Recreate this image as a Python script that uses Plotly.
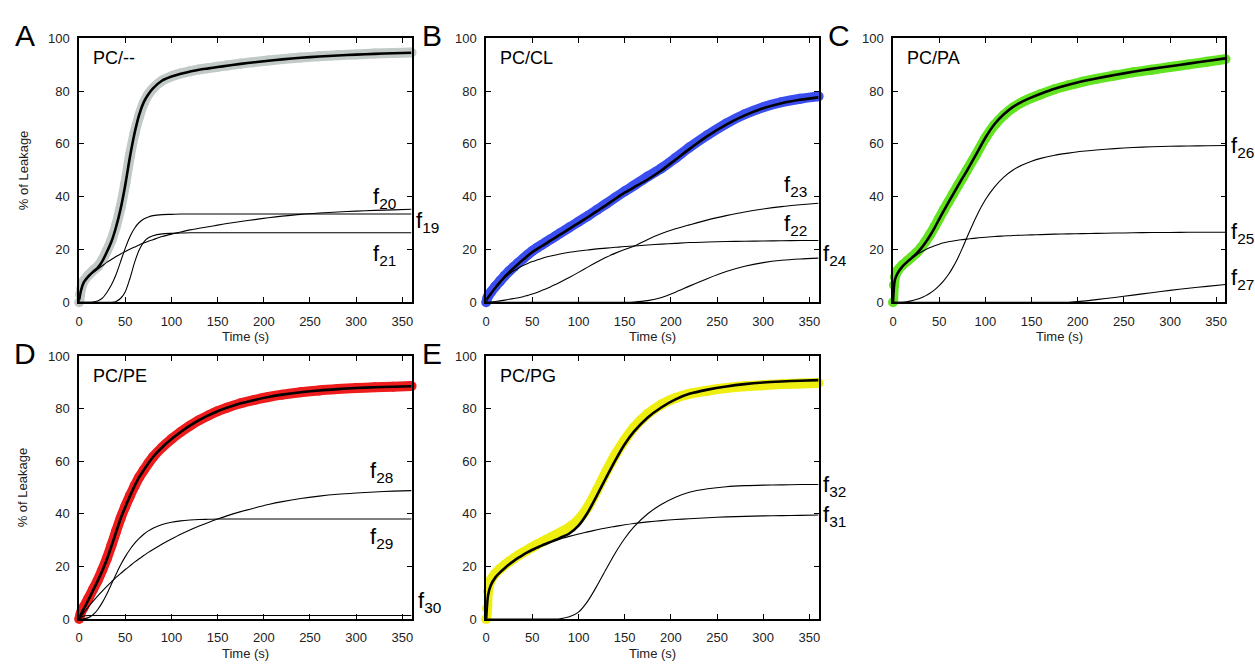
import plotly.graph_objects as go

W, H = 1255, 668

# ---------------- data ----------------
T = [0, 2, 5, 10, 15, 20, 25, 30, 35, 40, 45, 50, 55, 60, 65, 70, 75, 80, 90, 100,
     110, 120, 130, 140, 150, 160, 175, 190, 205, 220, 240, 260, 280, 300, 320, 340, 360]
TD = [0, 1, 2, 5, 10, 15, 20, 25, 30, 35, 40, 45, 50, 55, 60, 65, 70, 75, 80, 90, 100,
      110, 120, 130, 140, 150, 160, 175, 190, 205, 220, 240, 260, 280, 300, 320, 340, 360]

# Panel A  PC/--
A_data = [0, 3, 5, 8, 10.2, 12, 13.5, 16, 19.5, 23.5, 29, 36, 45, 55.5, 64, 70.5, 75.5, 78.8, 81,
          84, 85.6, 86.7, 87.5, 88.2, 88.7, 89.2, 89.7, 90.4, 91, 91.6, 92.1, 92.7, 93.2, 93.6,
          93.9, 94.2, 94.4, 94.6]
A_fit = [1, 4.5, 7.5, 9.8, 11.5, 13, 15.5, 19, 23, 28.5, 35.5, 44.5, 55, 64, 71, 75.8, 78.8, 81,
         84, 85.5, 86.6, 87.4, 88.1, 88.6, 89.1, 89.6, 90.3, 90.9, 91.5, 92.0, 92.6, 93.1, 93.5,
         93.8, 94.1, 94.3, 94.5]
A_f20 = [0, 4.3, 7.3, 9.6, 11.2, 12.5, 13.8, 15.1, 16.2, 17.3, 18.3, 19.2, 20.1, 20.9, 21.7, 22.4,
         23.1, 23.7, 24.9, 25.8, 26.6, 27.4, 28, 28.6, 29.2, 29.8, 30.6, 31.3, 32, 32.6, 33.3,
         33.8, 34.2, 34.5, 34.8, 35.0, 35.2]
A_f19 = [0, 0, 0, 0, 0.1, 0.5, 1.5, 3.7, 6.6, 10.5, 15.5, 20.5, 24.8, 28, 30.2, 31.5, 32.3, 32.8,
         33.2, 33.3, 33.4, 33.4, 33.4, 33.4, 33.4, 33.4, 33.4, 33.4, 33.4, 33.4, 33.4, 33.4, 33.4,
         33.4, 33.4, 33.4, 33.4]
A_f21 = [0, 0, 0, 0, 0, 0, 0, 0, 0, 0.3, 1.5, 4, 9, 15, 19.8, 22.8, 24.4, 25.2, 25.9, 26.1, 26.2,
         26.3, 26.3, 26.3, 26.3, 26.3, 26.3, 26.3, 26.3, 26.3, 26.3, 26.3, 26.3, 26.3, 26.3, 26.3, 26.3]

# Panel B  PC/CL
B_data = [0, 1.5, 2.3, 3.8, 6, 8, 10, 11.8, 13.4, 15, 16.5, 18, 19.4, 20.6, 21.7, 22.8, 23.9,
          25, 26.1, 28.3, 30.5, 32.7, 35, 37.3, 39.7, 42, 44.2, 47.6, 50.8, 54.6, 58.6, 63.4,
          67.7, 71.2, 73.9, 75.8, 77.1, 78]
B_fit = [1, 1.8, 3.2, 5.5, 7.6, 9.6, 11.4, 13, 14.6, 16.1, 17.6, 19, 20.1, 21.2, 22.3, 23.4, 24.5,
         25.6, 27.8, 30, 32.2, 34.5, 36.8, 39.2, 41.5, 43.5, 46.5, 50, 54, 58, 63, 67.3, 70.8,
         73.5, 75.4, 76.7, 77.6]
B_f22 = [0, 1.5, 3, 5.5, 7.5, 9.2, 10.7, 11.9, 13, 13.9, 14.7, 15.4, 16, 16.6, 17.1, 17.5, 17.9,
         18.3, 18.9, 19.4, 19.8, 20.2, 20.5, 20.8, 21.1, 21.3, 21.7, 22, 22.3, 22.6, 22.8, 23, 23.1,
         23.2, 23.3, 23.4, 23.4]
B_f23 = [0, 0, 0.1, 0.3, 0.5, 0.8, 1.1, 1.4, 1.7, 2.1, 2.6, 3.1, 3.7, 4.4, 5.1, 5.9, 6.7, 7.6, 9.4,
         11.3, 13.3, 15.2, 17, 18.6, 20, 21.2, 23.8, 26, 27.8, 29.3, 31.2, 32.8, 34.2, 35.3, 36.2,
         36.9, 37.5]
B_f24 = [0, 0, 0, 0, 0, 0, 0, 0, 0, 0, 0, 0, 0, 0, 0, 0, 0, 0, 0, 0, 0, 0, 0, 0, 0, 0.1, 0.6, 1.8,
         3.8, 6.1, 9, 11.6, 13.6, 15, 15.9, 16.4, 16.7]

# Panel C  PC/PA
C_data = [0, 6.5, 9.5, 12, 14, 15.5, 17, 18.6, 20.5, 22.9, 25.6, 28.6, 31.8, 35, 38, 41, 44, 47,
          50, 56, 62.2, 67.2, 70.9, 73.7, 75.8, 77.4, 78.8, 80.7, 82.2, 83.5, 84.6, 85.9, 87.1,
          88.1, 89.1, 90.1, 91.1, 92.1]
C_fit = [0, 8.5, 11, 13.5, 15.2, 16.7, 18.3, 20.2, 22.5, 25.2, 28.2, 31.5, 34.7, 37.8, 40.9, 43.9,
         46.9, 49.8, 56, 62.3, 67.5, 71.2, 74, 76, 77.6, 79, 80.9, 82.4, 83.7, 84.8, 86.1, 87.3,
         88.4, 89.4, 90.4, 91.4, 92.4]
C_f25 = [0, 8.3, 10.8, 13.3, 15, 16.5, 17.8, 18.9, 19.9, 20.7, 21.4, 22, 22.5, 22.9, 23.2, 23.5,
         23.7, 23.9, 24.3, 24.6, 24.9, 25.1, 25.3, 25.4, 25.5, 25.6, 25.8, 25.9, 26, 26.1, 26.2,
         26.3, 26.4, 26.4, 26.5, 26.5, 26.5]
C_f26 = [0, 0, 0, 0, 0.2, 0.5, 1, 1.6, 2.4, 3.4, 4.7, 6.3, 8.2, 10.5, 13.3, 16.6, 20.4, 24.5, 32.3,
         38.8, 43.7, 47.4, 50.1, 52, 53.4, 54.5, 55.7, 56.5, 57.2, 57.7, 58.2, 58.6, 58.9, 59.1,
         59.2, 59.3, 59.4]
C_f27 = [0, 0, 0, 0, 0, 0, 0, 0, 0, 0, 0, 0, 0, 0, 0, 0, 0, 0, 0, 0, 0, 0, 0, 0, 0, 0, 0, 0, 0.4,
         1, 1.8, 2.7, 3.6, 4.5, 5.3, 6, 6.7]

# Panel D  PC/PE
D_data = [0, 1.5, 2.5, 4.5, 7.8, 11.2, 14.6, 18.6, 23, 28, 33.3, 38.4, 42.8, 46.8, 50.5, 53.9,
          56.6, 59.2, 61.6, 65.3, 68.4, 71.1, 73.5, 75.6, 77.4, 79, 80.3, 82, 83.3, 84.4, 85.3,
          86.2, 86.9, 87.4, 87.8, 88.1, 88.3, 88.6]
D_fit = [0.5, 1.8, 3.8, 7.2, 10.8, 14.4, 18.2, 22.6, 27.7, 33, 38.2, 42.6, 46.7, 50.5, 53.9, 56.6,
         59.2, 61.6, 65.3, 68.4, 71.1, 73.5, 75.6, 77.4, 79, 80.3, 82, 83.3, 84.4, 85.3, 86.2,
         86.9, 87.4, 87.8, 88.1, 88.3, 88.5]
D_f28 = [0, 0.9, 2.3, 4.6, 6.7, 8.7, 10.6, 12.4, 14.1, 15.8, 17.3, 18.8, 20.2, 21.6, 22.9, 24.1,
         25.3, 26.4, 28.5, 30.4, 32.2, 33.8, 35.3, 36.7, 38, 39.2, 40.8, 42.2, 43.5, 44.6, 45.8,
         46.7, 47.4, 47.9, 48.3, 48.6, 48.8]
D_f29 = [0, 0, 0.1, 0.5, 1.6, 3.5, 6.2, 9.5, 13.3, 17, 20.6, 23.7, 26.4, 28.7, 30.6, 32.2, 33.5,
         34.5, 35.9, 36.8, 37.3, 37.6, 37.8, 37.9, 38, 38, 38, 38, 38, 38, 38, 38, 38, 38, 38, 38, 38]
D_f30 = [0, 0.6, 1.1, 1.3, 1.3, 1.3, 1.3, 1.3, 1.3, 1.3, 1.3, 1.3, 1.3, 1.3, 1.3, 1.3, 1.3, 1.3,
         1.3, 1.3, 1.3, 1.3, 1.3, 1.3, 1.3, 1.3, 1.3, 1.3, 1.3, 1.3, 1.3, 1.3, 1.3, 1.3, 1.3, 1.3, 1.3]

# Panel E  PC/PG
E_data = [0, 4, 10.5, 14.8, 17.3, 19, 20.5, 21.8, 23, 24.2, 25.3, 26.3, 27.3, 28.3, 29.2, 30.1,
          31, 31.9, 32.8, 34.8, 37.8, 42.5, 49, 56, 62.5, 68, 72.8, 78, 81.6, 84, 85.6, 86.8,
          87.8, 88.5, 88.9, 89.3, 89.5, 89.7]
E_fit = [0, 9, 12.8, 15.8, 17.7, 19.3, 20.8, 22.1, 23.3, 24.4, 25.4, 26.3, 27.1, 27.9, 28.6, 29.3,
         30, 30.8, 32.5, 35.5, 40.5, 47, 53.8, 60.4, 66.4, 71.2, 76.6, 80.5, 83.5, 85.6, 87.2,
         88.4, 89.3, 89.9, 90.3, 90.6, 90.8]
E_f31 = [0, 9, 12.8, 15.8, 17.7, 19.3, 20.8, 22.1, 23.3, 24.4, 25.4, 26.3, 27.1, 27.9, 28.6, 29.3,
         29.9, 30.4, 31.4, 32.3, 33.1, 33.9, 34.6, 35.2, 35.8, 36.3, 36.9, 37.4, 37.8, 38.1, 38.5,
         38.8, 39, 39.2, 39.3, 39.4, 39.5]
E_f32 = [0, 0, 0, 0, 0, 0, 0, 0, 0, 0, 0, 0, 0, 0, 0, 0, 0, 0.1, 0.8, 2.6, 6.8, 12.6, 19, 25.2,
         30.6, 35, 40, 43.6, 46.3, 48.2, 49.5, 50.3, 50.7, 50.9, 51, 51.1, 51.1]

X_TICKS = [0, 50, 100, 150, 200, 250, 300, 350]
Y_TICKS = [0, 20, 40, 60, 80, 100]

# ---------------- panel setup ----------------
FONT = "Liberation Sans, Arial, Helvetica, sans-serif"

panels = [
    dict(letter="A", title="PC/--", box=(75.5, 409.5, 32, 302), color="#c2cac7",
         data=A_data, fit=A_fit, comps=[A_f20, A_f19, A_f21],
         labels=[("20", 369, 179), ("19", 412, 204), ("21", 369, 237)], ytitle=True),
    dict(letter="B", title="PC/CL", box=(484.5, 818.5, 32, 302), color="#3b4ef0",
         data=B_data, fit=B_fit, comps=[B_f22, B_f23, B_f24],
         labels=[("23", 782, 167), ("22", 782, 207), ("24", 821, 237)], ytitle=False),
    dict(letter="C", title="PC/PA", box=(893.3, 1227.3, 32, 302), color="#62e31f",
         data=C_data, fit=C_fit, comps=[C_f25, C_f26, C_f27],
         labels=[("26", 1231, 127), ("25", 1231, 215), ("27", 1231, 262)], ytitle=False),
    dict(letter="D", title="PC/PE", box=(75.5, 409.5, 357, 626), color="#ee1c1c",
         data=D_data, fit=D_fit, comps=[D_f28, D_f29, D_f30],
         labels=[("28", 366, 459), ("29", 366, 527), ("30", 414, 592)], ytitle=True),
    dict(letter="E", title="PC/PG", box=(484.5, 818.5, 357, 626), color="#eeee11",
         data=E_data, fit=E_fit, comps=[E_f31, E_f32],
         labels=[("32", 821, 474), ("31", 821, 504)], ytitle=False),
]

fig = go.Figure()
annotations = []
layout_axes = {}


def px(x):
    return x / W


def py(y):
    return 1 - y / H


for i, p in enumerate(panels):
    n = "" if i == 0 else str(i + 1)
    xa, ya = "x" + n, "y" + n
    x0, x1, y0, y1 = p["box"]

    fig.add_trace(go.Scatter(
        x=TD, y=p["data"], xaxis=xa, yaxis=ya, mode="lines+markers",
        line=dict(color=p["color"], width=10, shape="spline", smoothing=0.8),
        marker=dict(color=p["color"], size=10), cliponaxis=False, hoverinfo="skip"))
    for comp in p["comps"]:
        fig.add_trace(go.Scatter(
            x=T, y=comp, xaxis=xa, yaxis=ya, mode="lines",
            line=dict(color="black", width=1.1, shape="spline", smoothing=0.8),
            hoverinfo="skip"))
    fig.add_trace(go.Scatter(
        x=T, y=p["fit"], xaxis=xa, yaxis=ya, mode="lines",
        line=dict(color="black", width=2.6, shape="spline", smoothing=0.8),
        hoverinfo="skip"))

    common = dict(showline=True, linecolor="black", linewidth=1.6, mirror="ticks",
                  ticks="inside", ticklen=5, tickwidth=1.2, tickcolor="black",
                  showgrid=False, zeroline=False, fixedrange=True,
                  tickfont=dict(family=FONT, size=13, color="#222"))
    layout_axes["xaxis" + n] = dict(common, domain=[px(x0), px(x1)], range=[0, 360],
                                    tickvals=X_TICKS, anchor=ya, ticklabelstandoff=6)
    layout_axes["yaxis" + n] = dict(common, domain=[py(y1), py(y0)], range=[0, 100],
                                    tickvals=Y_TICKS, anchor=xa, ticklabelstandoff=5)

    annotations.append(dict(text=p["letter"], x=px(x0 - 54), y=py(y0 - 3), xref="paper", yref="paper",
                            xanchor="center", yanchor="middle", showarrow=False,
                            font=dict(family=FONT, size=30, color="black")))
    annotations.append(dict(text=p["title"], x=px(x0 + 12), y=py(y0 + 20), xref="paper", yref="paper",
                            xanchor="left", yanchor="middle", showarrow=False,
                            font=dict(family=FONT, size=18, color="black")))
    annotations.append(dict(text="Time (s)", x=px((x0 + x1) / 2), y=py(y1 + 35.5), xref="paper",
                            yref="paper", xanchor="center", yanchor="middle", showarrow=False,
                            font=dict(family=FONT, size=13, color="#222")))
    if p["ytitle"]:
        annotations.append(dict(text="% of Leakage", x=px(19), y=py((y0 + y1) / 2), xref="paper",
                                yref="paper", xanchor="center", yanchor="middle", textangle=-90,
                                showarrow=False, font=dict(family=FONT, size=13, color="#222")))
    for sub, lx, ly in p["labels"]:
        annotations.append(dict(text="f<sub>" + sub + "</sub>", x=px(lx), y=py(ly), xref="paper",
                                yref="paper", xanchor="left", yanchor="top", showarrow=False,
                                font=dict(family=FONT, size=22, color="black")))

fig.update_layout(
    width=W, height=H, margin=dict(l=0, r=0, t=0, b=0),
    paper_bgcolor="white", plot_bgcolor="white", showlegend=False,
    annotations=annotations, **layout_axes)

fig.write_html("out.html")
